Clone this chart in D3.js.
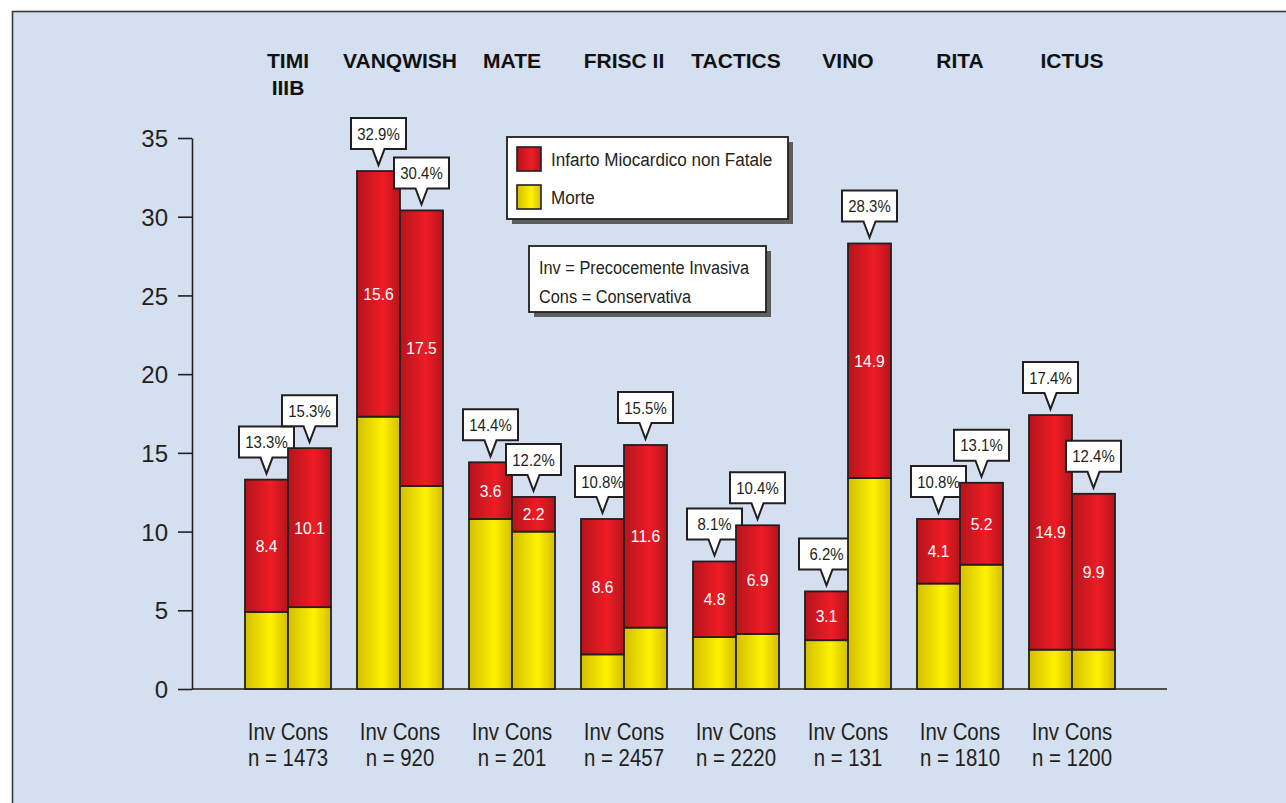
<!DOCTYPE html>
<html>
<head>
<meta charset="utf-8">
<script src="https://cdn.jsdelivr.net/npm/d3@7"></script>
<style>
  html, body { margin: 0; padding: 0; background: #ffffff; }
  svg { display: block; }
</style>
</head>
<body>
<svg id="chart" width="1286" height="803"></svg>
<script>
// Trials (two-line titles split with "\n")
const trials = ["TIMI\nIIIB", "VANQWISH", "MATE", "FRISC II", "TACTICS", "VINO", "RITA", "ICTUS"];
const sampleSizes = ["n = 1473", "n = 920", "n = 201", "n = 2457", "n = 2220", "n = 131", "n = 1810", "n = 1200"];
const arms = ["Inv", "Cons"];

// Death (%) and non-fatal MI (%) for the early invasive arm
const deathInv = [4.9, 17.3, 10.8, 2.2, 3.3, 3.1, 6.7, 2.5];
const miInv    = [8.4, 15.6, 3.6, 8.6, 4.8, 3.1, 4.1, 14.9];
// Death (%) and non-fatal MI (%) for the conservative arm
const deathCons = [5.2, 12.9, 10.0, 3.9, 3.5, 13.4, 7.9, 2.5];
const miCons    = [10.1, 17.5, 2.2, 11.6, 6.9, 14.9, 5.2, 9.9];

const yTicks = [0, 5, 10, 15, 20, 25, 30, 35];
const seriesNames = ["Infarto Miocardico non Fatale", "Morte"];
const noteLines = ["Inv = Precocemente Invasiva", "Cons = Conservativa"];

const rows = [];
trials.forEach((t, i) => {
  rows.push({ trial: t, arm: "Inv", death: deathInv[i], mi: miInv[i] });
  rows.push({ trial: t, arm: "Cons", death: deathCons[i], mi: miCons[i] });
});

const svg = d3.select("#chart");
const FONT = "'Liberation Sans', Arial, Helvetica, sans-serif";
const INK = "#231f20";
const NARROW_X = 0.85; // horizontal squeeze for the condensed captions

// gradients for the cylindrical bar look
const defs = svg.append("defs");
function grad(id, dark, light) {
  const g = defs.append("linearGradient").attr("id", id)
    .attr("x1", "0%").attr("x2", "100%").attr("y1", "0%").attr("y2", "0%");
  g.append("stop").attr("offset", "0%").attr("stop-color", dark);
  g.append("stop").attr("offset", "60%").attr("stop-color", light);
  g.append("stop").attr("offset", "100%").attr("stop-color", dark);
}
grad("gRed", "#b5141c", "#ee1c25");
grad("gYel", "#d2bf00", "#fff200");

// panel background
svg.append("rect")
  .attr("x", 12.5).attr("y", 11.5).attr("width", 1300).attr("height", 820)
  .attr("fill", "#d4dff0").attr("stroke", "#3a3a3a").attr("stroke-width", 1.6);

// scales
const x = d3.scaleBand().domain(trials).range([232, 1128])
  .paddingInner(0.232).paddingOuter(0.116);
const xArm = d3.scaleBand().domain(arms).range([0, x.bandwidth()]).padding(0);
const y = d3.scaleLinear().domain([0, 35]).range([689, 138]);

// y axis
const yAxis = svg.append("g").attr("transform", "translate(192,0)")
  .call(d3.axisLeft(y).tickValues(yTicks).tickSize(14).tickSizeOuter(0).tickPadding(10));
yAxis.select(".domain").attr("stroke", INK).attr("stroke-width", 1.6);
yAxis.selectAll(".tick line").attr("stroke", INK).attr("stroke-width", 1.6);
yAxis.selectAll(".tick text").attr("fill", INK)
  .style("font-family", FONT).style("font-size", "24px").attr("dy", "0.36em");

// baseline
svg.append("line")
  .attr("x1", 192).attr("x2", 1167).attr("y1", y(0)).attr("y2", y(0))
  .attr("stroke", INK).attr("stroke-width", 1.6);

// bars
const bars = svg.append("g").selectAll("g").data(rows).join("g")
  .attr("transform", d => `translate(${x(d.trial) + xArm(d.arm)},0)`);

bars.append("rect")
  .attr("x", 0).attr("width", xArm.bandwidth())
  .attr("y", d => y(d.death)).attr("height", d => y(0) - y(d.death))
  .attr("fill", "url(#gYel)").attr("stroke", INK).attr("stroke-width", 1.8);

bars.append("rect")
  .attr("x", 0).attr("width", xArm.bandwidth())
  .attr("y", d => y(d.death + d.mi)).attr("height", d => y(d.death) - y(d.death + d.mi))
  .attr("fill", "url(#gRed)").attr("stroke", INK).attr("stroke-width", 1.8);

bars.append("text")
  .attr("transform", d => `translate(${xArm.bandwidth() / 2},${y(d.death + d.mi / 2)}) scale(0.92,1)`)
  .attr("dy", "0.36em").attr("text-anchor", "middle")
  .attr("fill", "#ffffff").style("font-family", FONT).style("font-size", "17px")
  .text(d => d.mi.toFixed(1));

// callouts with totals
const bw = 55, bh = 31, ph = 16, pw = 12, gap = 6;
const callouts = bars.append("g")
  .attr("transform", d => `translate(${xArm.bandwidth() / 2},${y(d.death + d.mi) - gap})`);
callouts.append("path")
  .attr("d", () => {
    const top = -ph - bh, bot = -ph;
    return `M${-bw / 2},${top}H${bw / 2}V${bot}H${pw / 2}L0,0L${-pw / 2},${bot}H${-bw / 2}Z`;
  })
  .attr("fill", "#ffffff").attr("stroke", INK).attr("stroke-width", 2)
  .attr("stroke-linejoin", "miter");
callouts.append("text")
  .attr("transform", `translate(0,${-ph - bh / 2}) scale(0.88,1)`)
  .attr("dy", "0.36em")
  .attr("text-anchor", "middle").attr("fill", INK)
  .style("font-family", FONT).style("font-size", "17px")
  .text(d => (d.death + d.mi).toFixed(1) + "%");

// trial titles
const titles = svg.append("g").selectAll("text").data(trials).join("text")
  .attr("x", d => x(d) + x.bandwidth() / 2)
  .attr("y", 68)
  .attr("text-anchor", "middle").attr("fill", "#111")
  .style("font-family", FONT).style("font-weight", "bold").style("font-size", "21px");
titles.each(function (d) {
  const lines = d.split("\n");
  d3.select(this).selectAll("tspan").data(lines).join("tspan")
    .attr("x", x(d) + x.bandwidth() / 2)
    .attr("dy", (l, j) => j === 0 ? 0 : 27)
    .text(l => l);
});

// arm labels and sample sizes
const foot = svg.append("g").selectAll("g").data(trials).join("g")
  .attr("transform", d => `translate(${x(d) + x.bandwidth() / 2},0)`);
foot.append("text")
  .attr("transform", `translate(0,740) scale(${NARROW_X},1)`)
  .attr("text-anchor", "middle").attr("fill", INK)
  .style("font-family", FONT).style("font-size", "24px")
  .text(arms.join(" "));
foot.append("text")
  .attr("transform", `translate(0,766) scale(${NARROW_X},1)`)
  .attr("text-anchor", "middle").attr("fill", INK)
  .style("font-family", FONT).style("font-size", "24px")
  .text((d, i) => sampleSizes[i]);

// legend
const legend = svg.append("g").attr("transform", "translate(507,137)");
legend.append("rect").attr("x", 5).attr("y", 5).attr("width", 281).attr("height", 82).attr("fill", "#5e5e5e");
legend.append("rect").attr("x", 0).attr("y", 0).attr("width", 281).attr("height", 82)
  .attr("fill", "#ffffff").attr("stroke", INK).attr("stroke-width", 1.8);
const legFills = ["url(#gRed)", "url(#gYel)"];
seriesNames.forEach((name, i) => {
  legend.append("rect").attr("x", 10).attr("y", 10 + i * 38).attr("width", 24).attr("height", 24)
    .attr("fill", legFills[i]).attr("stroke", INK).attr("stroke-width", 1.6);
  legend.append("text")
    .attr("transform", `translate(44,${22 + i * 38}) scale(0.9,1)`)
    .attr("dy", "0.36em")
    .attr("fill", INK).style("font-family", FONT).style("font-size", "19px").text(name);
});

// abbreviations note
const note = svg.append("g").attr("transform", "translate(529,246)");
note.append("rect").attr("x", 5).attr("y", 5).attr("width", 237).attr("height", 66).attr("fill", "#5e5e5e");
note.append("rect").attr("x", 0).attr("y", 0).attr("width", 237).attr("height", 66)
  .attr("fill", "#ffffff").attr("stroke", INK).attr("stroke-width", 1.8);
noteLines.forEach((t, i) => {
  note.append("text")
    .attr("transform", `translate(10,${21 + i * 29}) scale(0.86,1)`)
    .attr("dy", "0.36em")
    .attr("fill", INK).style("font-family", FONT).style("font-size", "19px").text(t);
});
</script>
</body>
</html>
